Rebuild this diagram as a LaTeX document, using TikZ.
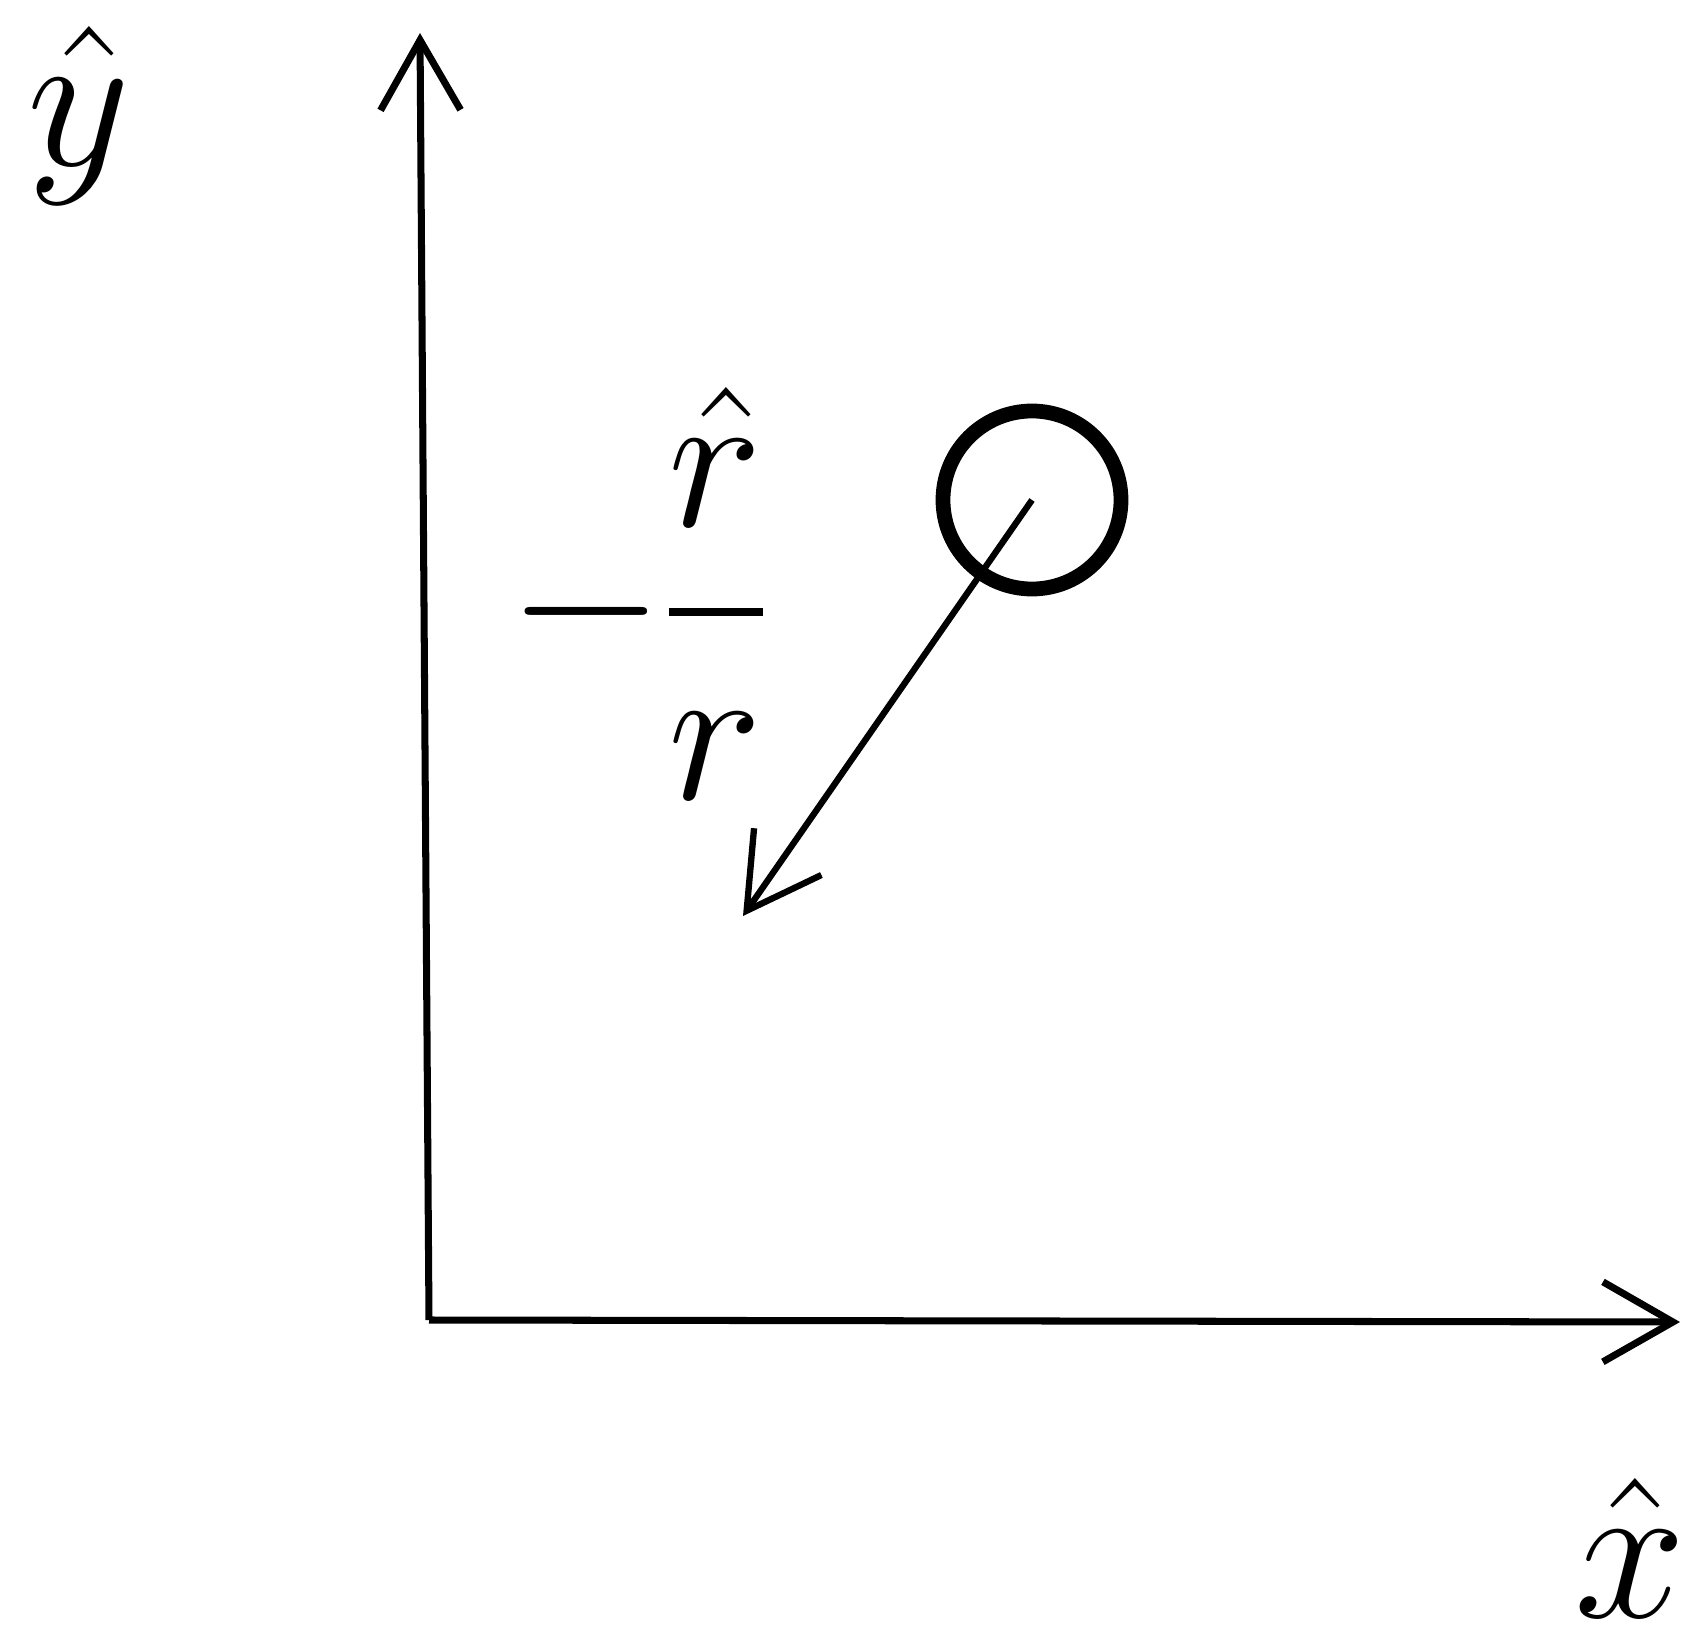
\RequirePackage{fix-cm}
\documentclass[tikz,border=0pt]{standalone}
\usepackage{amsmath}
\usepackage{tikz}
\usetikzlibrary{arrows.meta,positioning}

\begin{document}
\begin{tikzpicture}[
    axis/.style={-{Straight Barb[length=7mm, width=8mm]}, line width=2pt},
    vec/.style={-{Straight Barb[length=7.2mm, width=8.2mm]}, line width=1.8pt},
    charge/.style={draw, circle, line width=4.2pt, minimum size=1.78cm, inner sep=0pt},
    lbl/.style={font=\fontsize{57}{62}\selectfont, inner sep=0pt}
]
    % frame of the picture
    \useasboundingbox[fill=white] (0,-3.13) rectangle (16.91,13.20);

    % axes
    \coordinate (O) at (4.29,0);
    \coordinate (ytip) at (4.20,12.87);
    \coordinate (xtip) at (16.80,-0.02);
    \draw[axis] (O) -- (ytip);
    \draw[axis] (O) -- (xtip);
    \node[lbl] (ylab) at (0.79,12.05) {$\hat{y}$};
    \node[lbl] (xlab) at (16.30,-2.28) {$\hat{x}$};

    % particle and its pull
    \node[charge] (q) at (10.32,8.20) {};
    \coordinate (rtip) at (7.43,4.04);
    \draw[vec] (q.center) -- (rtip);
    \node[lbl, anchor=base] (force) at (6.38,6.58) {$-\genfrac{}{}{2.3pt}{0}{\hat{r}}{r}$};
\end{tikzpicture}
\end{document}
